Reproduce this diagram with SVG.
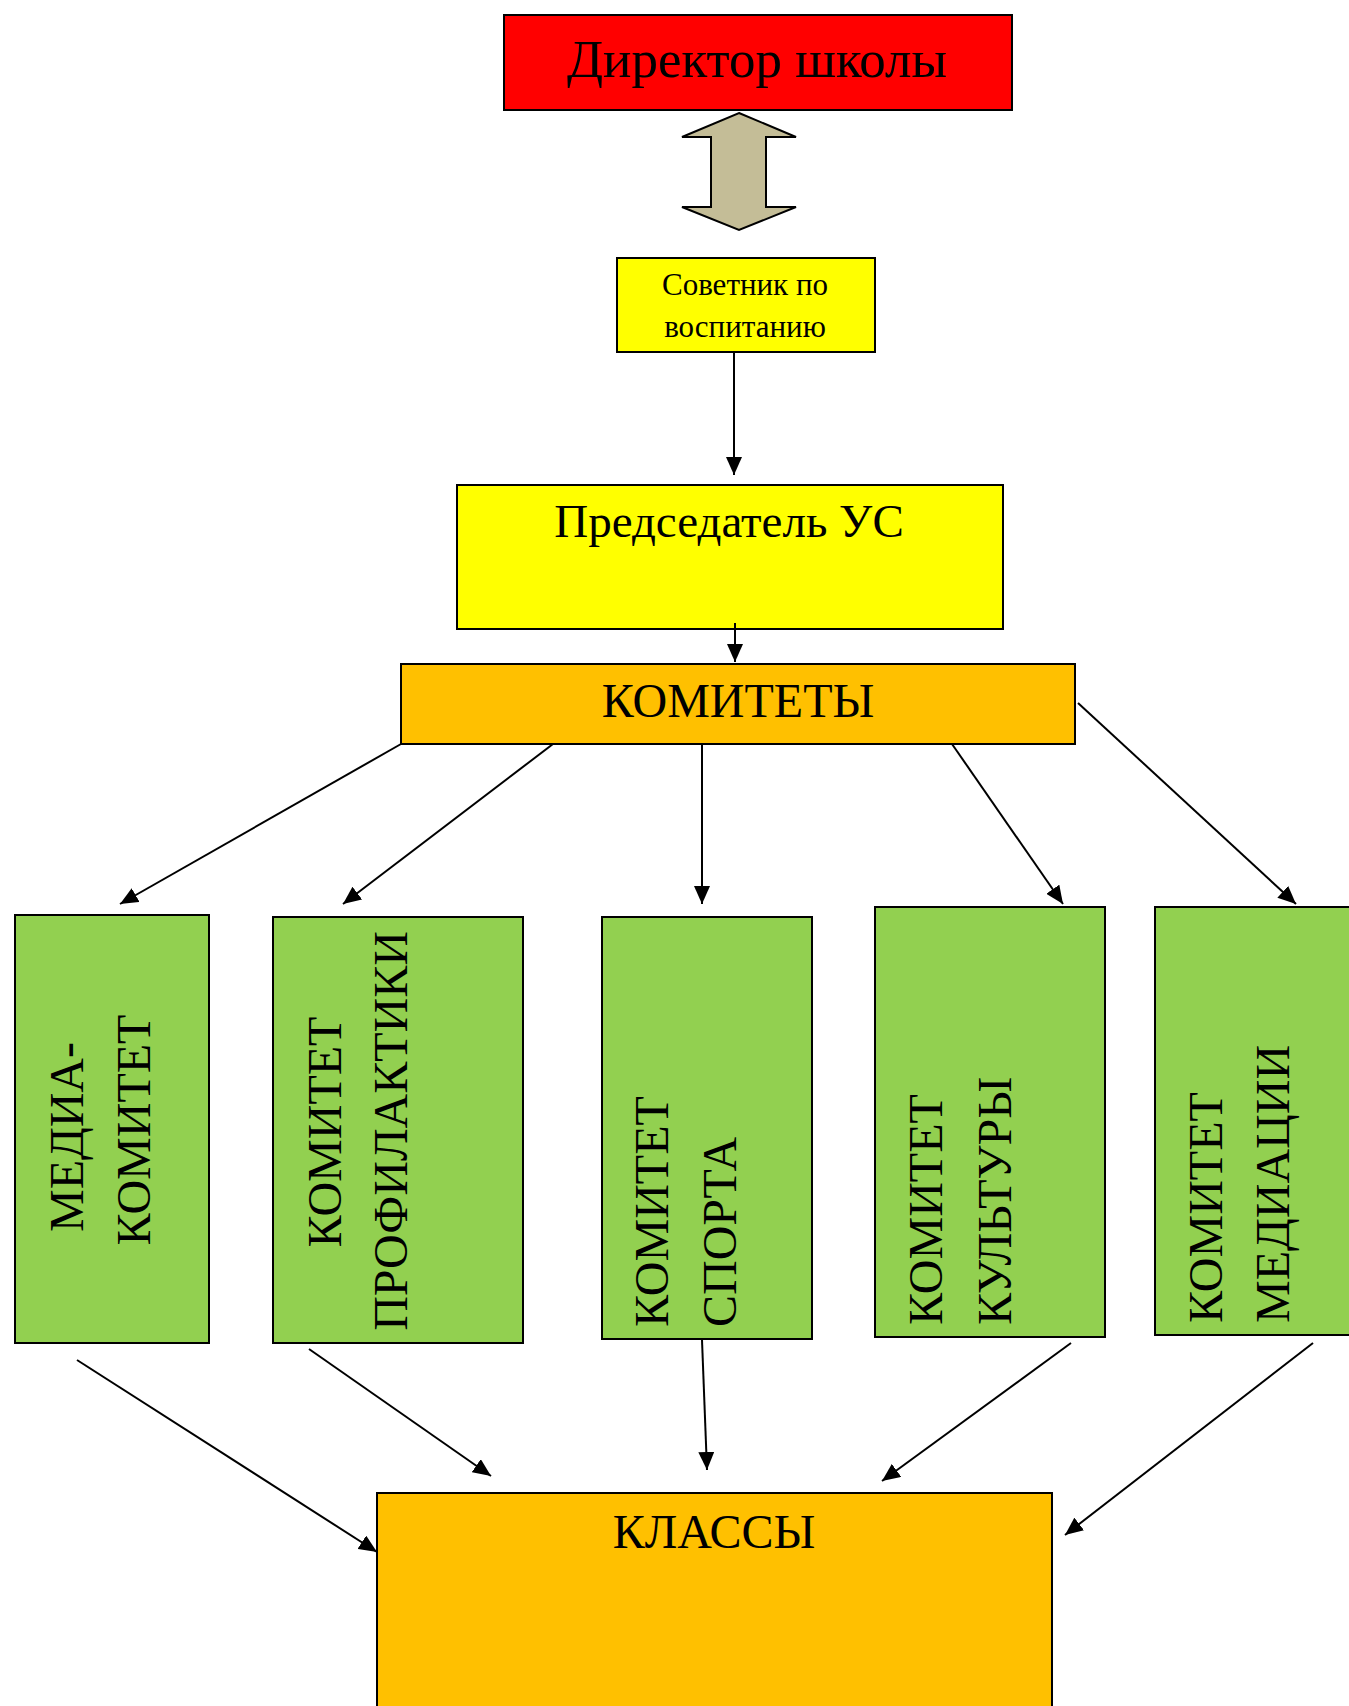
<svg xmlns="http://www.w3.org/2000/svg" width="1349" height="1706" viewBox="0 0 1349 1706">
<style>
.box{stroke:#000;stroke-width:2}
.t{font-family:"Liberation Serif","Times New Roman",serif;fill:#000}
.c{stroke:#000;stroke-width:2;fill:none;marker-end:url(#ah)}
</style>
<defs>
<marker id="ah" markerUnits="userSpaceOnUse" markerWidth="20" markerHeight="16" refX="18" refY="8" orient="auto">
<path d="M0,0 L18,8 L0,16 Z" fill="#000"/>
</marker>
</defs>
<rect width="1349" height="1706" fill="#fff"/>
<g id="director">
<rect class="box" x="504" y="15" width="508" height="95" fill="#ff0000"/>
<text class="t" x="757" y="77" font-size="53" text-anchor="middle">Директор школы</text>
</g>
<g id="double-arrow">
<path d="M739,113 L796,137 L766,137 L766,207 L796,207 L739,230 L682,207 L711,207 L711,137 L682,137 Z" fill="#c4bd97" stroke="#000" stroke-width="2"/>
</g>
<g id="advisor">
<rect class="box" x="617" y="258" width="258" height="94" fill="#ffff00"/>
<text class="t" x="745" y="295" font-size="31" text-anchor="middle">Советник по</text>
<text class="t" x="745" y="337" font-size="31" text-anchor="middle">воспитанию</text>
</g>
<g id="chairman">
<rect class="box" x="457" y="485" width="546" height="144" fill="#ffff00"/>
<text class="t" x="729" y="537" font-size="47" text-anchor="middle">Председатель УС</text>
</g>
<g id="committees">
<rect class="box" x="401" y="664" width="674" height="80" fill="#ffc000"/>
<text class="t" x="738" y="717" font-size="48" text-anchor="middle">КОМИТЕТЫ</text>
</g>
<g id="media">
<rect class="box" x="15" y="915" width="194" height="428" fill="#92d050"/>
<text class="t" transform="rotate(-90)" x="-1137" y="83" font-size="48" text-anchor="middle">МЕДИА-</text>
<text class="t" transform="rotate(-90)" x="-1130" y="150" font-size="48" text-anchor="middle">КОМИТЕТ</text>
</g>
<g id="prevention">
<rect class="box" x="273" y="917" width="250" height="426" fill="#92d050"/>
<text class="t" transform="rotate(-90)" x="-1132" y="341" font-size="48" text-anchor="middle">КОМИТЕТ</text>
<text class="t" transform="rotate(-90)" x="-1131" y="407" font-size="48" text-anchor="middle">ПРОФИЛАКТИКИ</text>
</g>
<g id="sport">
<rect class="box" x="602" y="917" width="210" height="422" fill="#92d050"/>
<text class="t" transform="rotate(-90)" x="-1327" y="668" font-size="48">КОМИТЕТ</text>
<text class="t" transform="rotate(-90)" x="-1327" y="736" font-size="48">СПОРТА</text>
</g>
<g id="culture">
<rect class="box" x="875" y="907" width="230" height="430" fill="#92d050"/>
<text class="t" transform="rotate(-90)" x="-1325" y="942" font-size="48">КОМИТЕТ</text>
<text class="t" transform="rotate(-90)" x="-1325" y="1011" font-size="48">КУЛЬТУРЫ</text>
</g>
<g id="mediation">
<rect class="box" x="1155" y="907" width="200" height="428" fill="#92d050"/>
<text class="t" transform="rotate(-90)" x="-1323" y="1222" font-size="48">КОМИТЕТ</text>
<text class="t" transform="rotate(-90)" x="-1323" y="1289" font-size="48">МЕДИАЦИИ</text>
</g>
<g id="classes">
<rect class="box" x="377" y="1493" width="675" height="230" fill="#ffc000"/>
<text class="t" x="714" y="1548" font-size="48" text-anchor="middle">КЛАССЫ</text>
</g>
<g id="connectors">
<line class="c" x1="734" y1="352" x2="734" y2="475" stroke-width="2.5"/>
<line class="c" x1="735" y1="623" x2="735" y2="662"/>
<line class="c" x1="401" y1="744" x2="120" y2="904"/>
<line class="c" x1="553" y1="744" x2="343" y2="904"/>
<line class="c" x1="702" y1="744" x2="702" y2="904"/>
<line class="c" x1="952" y1="744" x2="1063" y2="904"/>
<line class="c" x1="1078" y1="703" x2="1296" y2="904"/>
<line class="c" x1="77" y1="1360" x2="377" y2="1552"/>
<line class="c" x1="309" y1="1349" x2="491" y2="1476"/>
<line class="c" x1="702" y1="1340" x2="707" y2="1470"/>
<line class="c" x1="1071" y1="1343" x2="882" y2="1481"/>
<line class="c" x1="1313" y1="1343" x2="1065" y2="1535"/>
</g>
</svg>
